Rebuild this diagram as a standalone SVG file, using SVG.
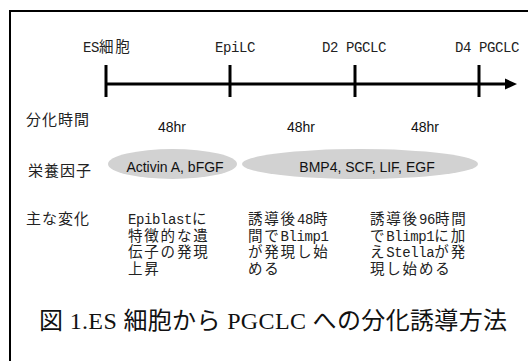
<svg xmlns="http://www.w3.org/2000/svg" width="528" height="361" viewBox="0 0 528 361">
<style>
.j{font-family:"Liberation Mono","Noto Sans CJK JP",monospace;font-size:14.5px;letter-spacing:1.8px;fill:#222}
.l{font-family:"Noto Sans CJK JP",sans-serif;font-size:15px;letter-spacing:1px;fill:#222}
.m{font-family:"Liberation Mono",monospace;font-size:14px;letter-spacing:-0.4px}
.s{font-family:"Liberation Sans",Arial,sans-serif;font-size:14px;fill:#111}
.ax{stroke:#000;stroke-width:3;fill:none}
.ell{fill:#d2d2d2}
</style>
<rect width="528" height="361" fill="#fff"/>
<g id="frame" stroke="#000" stroke-width="2" fill="none">
<path d="M10,361 V11 H528"/>
</g>
<g id="connectors">
<line class="ax" x1="106" y1="84" x2="507" y2="84"/>
<polygon points="505,78.5 517,84 505,89.5" fill="#000"/>
<line class="ax" x1="106" y1="65" x2="106" y2="97"/>
<line class="ax" x1="230" y1="65" x2="230" y2="97"/>
<line class="ax" x1="355" y1="65" x2="355" y2="97"/>
<line class="ax" x1="479" y1="65" x2="479" y2="97"/>
</g>
<g id="stage-es"><text class="j" x="83" y="52"><tspan class="m">ES</tspan>細胞</text></g>
<g id="stage-epilc"><text class="j m" x="215" y="52">EpiLC</text></g>
<g id="stage-d2"><text class="j m" x="322" y="52">D2 PGCLC</text></g>
<g id="stage-d4"><text class="j m" x="455" y="52">D4 PGCLC</text></g>
<g id="row-time">
<text class="l" x="26" y="125">分化時間</text>
<text class="s" x="172" y="132" text-anchor="middle">48hr</text>
<text class="s" x="301" y="132" text-anchor="middle">48hr</text>
<text class="s" x="425" y="132" text-anchor="middle">48hr</text>
</g>
<g id="row-factor">
<text class="l" x="28" y="176">栄養因子</text>
<g id="factor-1"><ellipse class="ell" cx="172.5" cy="164" rx="64.5" ry="15"/>
<text class="s" x="175" y="172" text-anchor="middle">Activin A, bFGF</text></g>
<g id="factor-2"><ellipse class="ell" cx="360" cy="164" rx="118" ry="15"/>
<text class="s" x="367" y="172" text-anchor="middle">BMP4, SCF, LIF, EGF</text></g>
</g>
<g id="row-change">
<text class="l" x="26" y="224">主な変化</text>
<g id="change-1">
<text class="j" x="128" y="224"><tspan class="m">Epiblast</tspan>に</text>
<text class="j" x="128" y="240.5">特徴的な遺</text>
<text class="j" x="128" y="257">伝子の発現</text>
<text class="j" x="128" y="273.5">上昇</text>
</g>
<g id="change-2">
<text class="j" x="248" y="224">誘導後<tspan class="m">48</tspan>時</text>
<text class="j" x="248" y="240.5">間で<tspan class="m">Blimp1</tspan></text>
<text class="j" x="248" y="257">が発現し始</text>
<text class="j" x="248" y="273.5">める</text>
</g>
<g id="change-3">
<text class="j" x="370" y="224">誘導後<tspan class="m">96</tspan>時間</text>
<text class="j" x="370" y="240.5">で<tspan class="m">Blimp1</tspan>に加</text>
<text class="j" x="370" y="257">え<tspan class="m">Stella</tspan>が発</text>
<text class="j" x="370" y="273.5">現し始める</text>
</g>
</g>
<g id="caption">
<text x="39" y="329" textLength="468" lengthAdjust="spacing" style="font-family:'Liberation Serif','Noto Sans CJK JP',serif;font-size:24px;fill:#111">図 1.ES 細胞から PGCLC への分化誘導方法</text>
</g>
</svg>
